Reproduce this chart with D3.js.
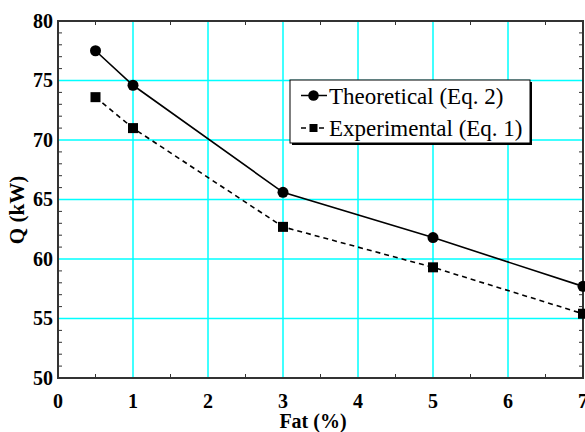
<!DOCTYPE html>
<html>
<head>
<meta charset="utf-8">
<script src="https://cdn.jsdelivr.net/npm/d3@7"></script>
<style>
  body { margin: 0; background: #fff; }
</style>
</head>
<body>
<script>
// data
const fat = [0.5, 1, 3, 5, 7];
const theoretical = [77.5, 74.6, 65.6, 61.8, 57.7];
const experimental = [73.6, 71.0, 62.7, 59.3, 55.4];
const xTicks = [0, 1, 2, 3, 4, 5, 6, 7];
const yTicks = [50, 55, 60, 65, 70, 75, 80];
const seriesNames = ["Theoretical (Eq. 2)", "Experimental (Eq. 1)"];

const serif = "'Liberation Serif', 'Times New Roman', Times, serif";

const canvWidth = 585, canvHeight = 432;
const margin = {top: 21, right: 2, bottom: 54, left: 58};
const width = canvWidth - margin.left - margin.right;
const height = canvHeight - margin.top - margin.bottom;

const svg = d3.select("body").append("svg")
  .attr("width", canvWidth)
  .attr("height", canvHeight)
  .style("font-family", serif);

const g = svg.append("g")
  .attr("transform", `translate(${margin.left},${margin.top})`);

const x = d3.scaleLinear().domain([0, 7]).range([0, width]);
const y = d3.scaleLinear().domain([50, 80]).range([height, 0]);

//grid
g.append("g").selectAll("line")
  .data(xTicks.slice(1, -1))
  .enter().append("line")
  .attr("x1", d => x(d)).attr("x2", d => x(d))
  .attr("y1", 0).attr("y2", height)
  .attr("stroke", "#00ffff").attr("stroke-width", 1.5);

g.append("g").selectAll("line")
  .data(yTicks.slice(1, -1))
  .enter().append("line")
  .attr("x1", 0).attr("x2", width)
  .attr("y1", d => y(d)).attr("y2", d => y(d))
  .attr("stroke", "#00ffff").attr("stroke-width", 1.5);

//minor ticks, inward, on all four sides
const xMinor = d3.range(0.5, 7, 1);
const yMinor = d3.range(51, 80, 1).filter(v => v % 5 !== 0);
const tickLen = 4;

const ticks = g.append("g").attr("stroke", "#333").attr("stroke-width", 1);
ticks.selectAll(".xb").data(xMinor).enter().append("line")
  .attr("x1", d => x(d)).attr("x2", d => x(d))
  .attr("y1", height).attr("y2", height - tickLen);
ticks.selectAll(".xt").data(xMinor).enter().append("line")
  .attr("x1", d => x(d)).attr("x2", d => x(d))
  .attr("y1", 0).attr("y2", tickLen);
ticks.selectAll(".yl").data(yMinor).enter().append("line")
  .attr("x1", 0).attr("x2", tickLen)
  .attr("y1", d => y(d)).attr("y2", d => y(d));
ticks.selectAll(".yr").data(yMinor).enter().append("line")
  .attr("x1", width).attr("x2", width - tickLen)
  .attr("y1", d => y(d)).attr("y2", d => y(d));

//frame
g.append("rect")
  .attr("x", 0).attr("y", 0)
  .attr("width", width).attr("height", height)
  .attr("fill", "none")
  .attr("stroke", "#333").attr("stroke-width", 2);

//tick labels
g.append("g").selectAll("text")
  .data(xTicks)
  .enter().append("text")
  .attr("x", d => x(d))
  .attr("y", height + 30)
  .attr("text-anchor", "middle")
  .style("font-family", serif)
  .attr("font-size", 20).attr("font-weight", "bold")
  .text(d => d);

g.append("g").selectAll("text")
  .data(yTicks)
  .enter().append("text")
  .attr("x", -5)
  .attr("y", d => y(d) + 6.5)
  .attr("text-anchor", "end")
  .style("font-family", serif)
  .attr("font-size", 20).attr("font-weight", "bold")
  .text(d => d);

//axis titles
svg.append("text")
  .attr("x", 313).attr("y", 428)
  .attr("text-anchor", "middle")
  .style("font-family", serif)
  .attr("font-size", 20).attr("font-weight", "bold")
  .text("Fat (%)");

svg.append("text")
  .attr("transform", "translate(24,210) rotate(-90)")
  .attr("text-anchor", "middle")
  .style("font-family", serif)
  .attr("font-size", 21).attr("font-weight", "bold")
  .text("Q (kW)");

//lines
const line = d3.line().x(d => x(d[0])).y(d => y(d[1]));
const theoData = fat.map((f, i) => [f, theoretical[i]]);
const expData = fat.map((f, i) => [f, experimental[i]]);

g.append("path").datum(theoData)
  .attr("d", line).attr("fill", "none")
  .attr("stroke", "#000").attr("stroke-width", 1.6);

g.append("path").datum(expData)
  .attr("d", line).attr("fill", "none")
  .attr("stroke", "#000").attr("stroke-width", 1.6)
  .attr("stroke-dasharray", "5,4");

g.selectAll(".dot").data(theoData).enter().append("circle")
  .attr("cx", d => x(d[0])).attr("cy", d => y(d[1]))
  .attr("r", 5.5).attr("fill", "#000");

g.selectAll(".sq").data(expData).enter().append("rect")
  .attr("x", d => x(d[0]) - 5).attr("y", d => y(d[1]) - 5)
  .attr("width", 10).attr("height", 10).attr("fill", "#000");

//legend
const lg = svg.append("g").attr("transform", "translate(290,80)");
lg.append("rect").attr("x", 2).attr("y", 2).attr("width", 240).attr("height", 63).attr("fill", "#000");
lg.append("rect").attr("width", 240).attr("height", 63)
  .attr("fill", "#fff").attr("stroke", "#000").attr("stroke-width", 1);

seriesNames.forEach((name, i) => {
  const cy = 15.5 + i * 32.5;
  lg.append("line")
    .attr("x1", 11).attr("x2", 37).attr("y1", cy).attr("y2", cy)
    .attr("stroke", "#000").attr("stroke-width", 1.5)
    .attr("stroke-dasharray", i === 0 ? null : "5,4");
  if (i === 0) {
    lg.append("circle").attr("cx", 23.5).attr("cy", cy).attr("r", 5.3).attr("fill", "#000");
  } else {
    lg.append("rect").attr("x", 19.5).attr("y", cy - 4).attr("width", 8).attr("height", 8).attr("fill", "#000");
  }
  lg.append("text")
    .attr("x", 39).attr("y", cy + 8)
    .style("font-family", serif)
    .attr("font-size", 23)
    .text(name);
});
</script>
</body>
</html>
